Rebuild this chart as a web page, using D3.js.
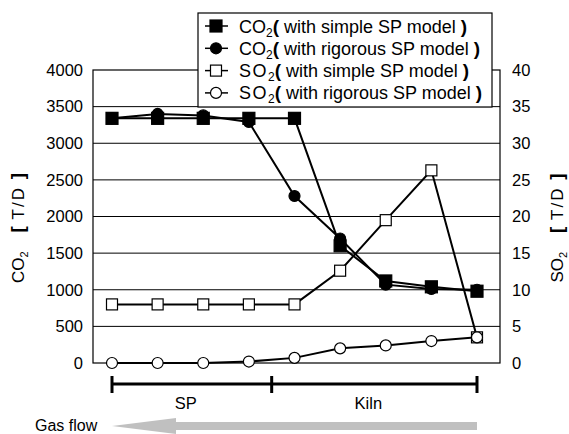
<!DOCTYPE html>
<html>
<head>
<meta charset="utf-8">
<script src="https://cdn.jsdelivr.net/npm/d3@7"></script>
<style>
  body { margin: 0; background: #fff; }
  text { font-family: "Liberation Sans", Arial, sans-serif; fill: #000; }
</style>
</head>
<body>
<div class="canvas"></div>
<script>
// data
const stages = ['1', '2', '3', '4', '5', '6', '7', '8', '9'];
const co2Simple = [3340, 3340, 3340, 3340, 3340, 1600, 1120, 1040, 980];
const co2Rigorous = [3340, 3400, 3380, 3290, 2280, 1700, 1070, 1010, 1000];
const so2Simple = [8, 8, 8, 8, 8, 12.6, 19.5, 26.3, 3.5];
const so2Rigorous = [0, 0, 0, 0.2, 0.7, 2.0, 2.4, 3.0, 3.5];
const co2Ticks = [0, 500, 1000, 1500, 2000, 2500, 3000, 3500, 4000];
const so2Ticks = [0, 5, 10, 15, 20, 25, 30, 35, 40];
const sections = [
    { name: 'SP', from: 0, to: 3.5 },
    { name: 'Kiln', from: 3.5, to: 8 }
];
const legendItems = [
    { gas: 'CO', model: 'simple', shape: 'square', filled: true },
    { gas: 'CO', model: 'rigorous', shape: 'circle', filled: true },
    { gas: 'SO', model: 'simple', shape: 'square', filled: false },
    { gas: 'SO', model: 'rigorous', shape: 'circle', filled: false }
];

const plotLeft = 93, plotRight = 500, plotTop = 70, plotBottom = 363;

const svg = d3.select('.canvas')
    .append('svg')
    .attr('width', 569)
    .attr('height', 434);

const x = d3.scalePoint()
    .domain(stages)
    .range([112, 477]);

const yL = d3.scaleLinear()
    .domain([0, 4000])
    .range([plotBottom, plotTop]);

const yR = d3.scaleLinear()
    .domain([0, 40])
    .range([plotBottom, plotTop]);

// x position for fractional stage index
const xi = i => {
    const lo = Math.floor(i), hi = Math.ceil(i);
    return x(stages[lo]) + (x(stages[hi]) - x(stages[lo])) * (i - lo);
};

// grid lines
svg.selectAll('.grid')
    .data(co2Ticks.slice(1, -1))
    .enter()
    .append('line')
    .attr('x1', plotLeft).attr('x2', plotRight)
    .attr('y1', d => yL(d)).attr('y2', d => yL(d))
    .attr('stroke', '#000')
    .attr('stroke-width', 1);

svg.append('rect')
    .attr('x', plotLeft).attr('y', plotTop)
    .attr('width', plotRight - plotLeft).attr('height', plotBottom - plotTop)
    .attr('fill', 'none')
    .attr('stroke', '#000')
    .attr('stroke-width', 1.2);

// axes
const axL = svg.append('g')
    .attr('transform', `translate(${plotLeft},0)`)
    .call(d3.axisLeft(yL).tickValues(co2Ticks).tickFormat(d3.format('d')).tickSize(0).tickPadding(10));
const axR = svg.append('g')
    .attr('transform', `translate(${plotRight},0)`)
    .call(d3.axisRight(yR).tickValues(so2Ticks).tickFormat(d3.format('d')).tickSize(0).tickPadding(12));
[axL, axR].forEach(a => {
    a.select('.domain').remove();
    a.selectAll('text').attr('font-size', 16.5).attr('font-family', '"Liberation Sans", Arial, sans-serif');
});

// axis titles
function axisTitle(gas, tx, ty) {
    const t = svg.append('text')
        .attr('transform', `translate(${tx},${ty}) rotate(-90)`)
        .attr('text-anchor', 'middle')
        .attr('font-size', 17);
    t.append('tspan').text(gas);
    t.append('tspan').text('2').attr('font-size', 11).attr('dy', 4);
    t.append('tspan').text('\u00a0\u00a0\u00a0\u00a0').attr('dy', -4);
    t.append('tspan').text('[').attr('font-weight', 'bold').attr('font-size', 19);
    t.append('tspan').text('\u00a0T/D\u00a0').attr('letter-spacing', 2);
    t.append('tspan').text(']').attr('font-weight', 'bold').attr('font-size', 19);
}
axisTitle('CO', 24, 228);
axisTitle('SO', 563, 228);

// series
const series = [
    { values: co2Rigorous, y: yL, shape: 'circle', filled: true },
    { values: co2Simple, y: yL, shape: 'square', filled: true },
    { values: so2Simple, y: yR, shape: 'square', filled: false },
    { values: so2Rigorous, y: yR, shape: 'circle', filled: false }
];

function drawMarker(g, shape, filled, cx, cy) {
    if (shape === 'square') {
        const s = filled ? 12 : 11;
        g.append('rect')
            .attr('x', cx - s / 2).attr('y', cy - s / 2)
            .attr('width', s).attr('height', s)
            .attr('fill', filled ? '#000' : '#fff')
            .attr('stroke', '#000').attr('stroke-width', 1.2);
    } else {
        g.append('circle')
            .attr('cx', cx).attr('cy', cy)
            .attr('r', 5.5)
            .attr('fill', filled ? '#000' : '#fff')
            .attr('stroke', '#000').attr('stroke-width', 1.2);
    }
}

series.forEach(s => {
    const line = d3.line()
        .x((d, i) => x(stages[i]))
        .y(d => s.y(d));
    svg.append('path')
        .datum(s.values)
        .attr('d', line)
        .attr('fill', 'none')
        .attr('stroke', '#000')
        .attr('stroke-width', 2);
});
series.forEach(s => {
    const g = svg.append('g');
    s.values.forEach((v, i) => drawMarker(g, s.shape, s.filled, x(stages[i]), s.y(v)));
});

// legend
const lg = svg.append('g');
lg.append('rect')
    .attr('x', 198).attr('y', 13)
    .attr('width', 294).attr('height', 94)
    .attr('fill', '#fff')
    .attr('stroke', '#000')
    .attr('stroke-width', 1.2);
legendItems.forEach((d, i) => {
    const cy = 26 + i * 22.3;
    lg.append('line')
        .attr('x1', 205).attr('x2', 228)
        .attr('y1', cy).attr('y2', cy)
        .attr('stroke', '#000').attr('stroke-width', 1.5);
    drawMarker(lg, d.shape, d.filled, 216, cy);
    const t = lg.append('text')
        .attr('x', 239).attr('y', cy + 6.5)
        .attr('font-size', 18);
    t.append('tspan').text(d.gas).attr('letter-spacing', d.gas === 'SO' ? 1.5 : 0);
    t.append('tspan').text('2').attr('font-size', 12).attr('dy', 4);
    t.append('tspan').text('(').attr('font-weight', 'bold').attr('font-size', 19).attr('dy', -4);
    t.append('tspan').text(`\u00a0with ${d.model} SP model\u00a0`);
    t.append('tspan').text(')').attr('font-weight', 'bold').attr('font-size', 19);
});

// section bracket
const by = 384;
svg.append('line')
    .attr('x1', xi(0)).attr('x2', xi(8))
    .attr('y1', by).attr('y2', by)
    .attr('stroke', '#000').attr('stroke-width', 3);
svg.selectAll('.btick')
    .data([0, 3.5, 8])
    .enter()
    .append('line')
    .attr('x1', d => xi(d)).attr('x2', d => xi(d))
    .attr('y1', by - 8).attr('y2', by + 9)
    .attr('stroke', '#000').attr('stroke-width', 3);
svg.selectAll('.sect')
    .data(sections)
    .enter()
    .append('text')
    .attr('x', d => (xi(d.from) + xi(d.to)) / 2 - 6)
    .attr('y', 409)
    .attr('text-anchor', 'middle')
    .attr('font-size', 16.5)
    .text(d => d.name);

// gas flow arrow
const ay = 426;
const tip = xi(0), headBase = tip + 64, tail = xi(8);
svg.append('path')
    .attr('d', `M${tip},${ay} L${headBase},${ay - 8} L${headBase},${ay - 4} L${tail},${ay - 4} L${tail},${ay + 4} L${headBase},${ay + 4} L${headBase},${ay + 8} Z`)
    .attr('fill', '#c0c0c0');
svg.append('text')
    .attr('x', 35).attr('y', 431)
    .attr('font-size', 16)
    .text('Gas flow');
</script>
</body>
</html>
